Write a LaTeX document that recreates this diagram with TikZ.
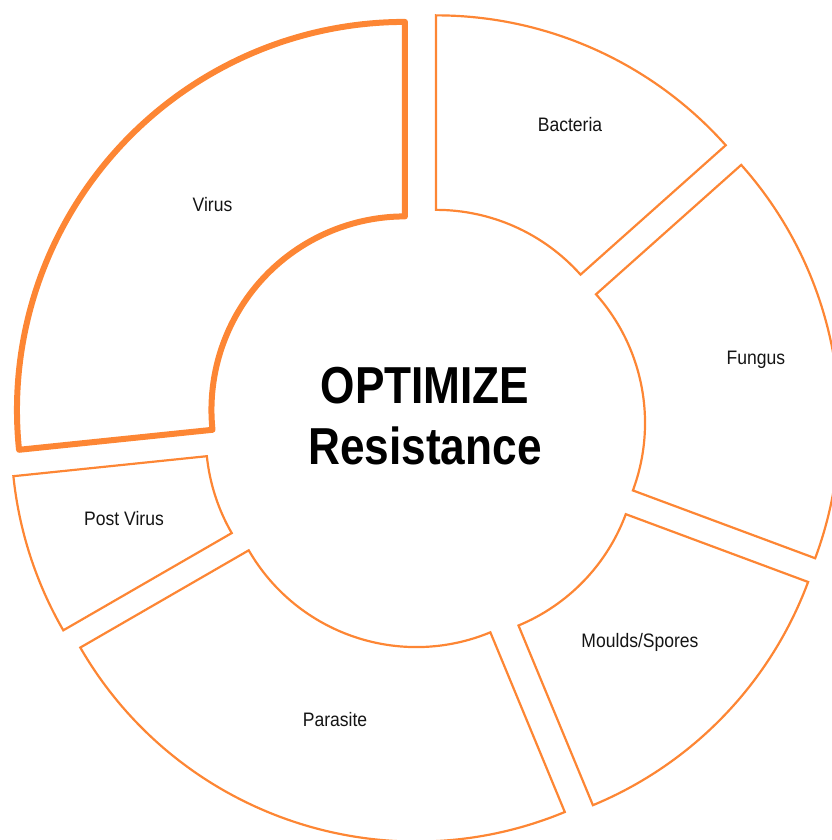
\documentclass[tikz,border=0pt]{standalone}
\usepackage{fontspec}
\setmainfont{Liberation Sans}
\newfontfamily\condbold[FakeStretch=0.85]{Liberation Sans Bold}
\newfontfamily\condreg[FakeStretch=0.9]{Liberation Sans}
\definecolor{segorange}{RGB}{253,134,52}
\newcommand{\donutseg}[3][]{%
  \pgfmathsetmacro{\segmid}{(#2+#3)/2}%
  \begin{scope}[shift={(C)},shift={(\segmid:27)}]
    \draw[segline,#1] (#2:193.5) -- (#2:388) arc[start angle=#2,end angle=#3,radius=388]
      -- (#3:193.5) arc[start angle=#3,end angle=#2,radius=193.5] -- cycle;
  \end{scope}}
\begin{document}
\begin{tikzpicture}[x=1pt,y=1pt,
  segline/.style={draw=segorange,line width=2.2pt,line join=miter},
  hilite/.style={line width=6pt,line join=round},
  lbl/.style={font=\condreg\fontsize{19.5}{22}\selectfont,text=black!92,anchor=base,inner sep=0pt},
  centertxt/.style={font=\condbold\fontsize{52}{60}\selectfont,text=black,anchor=base,inner sep=0pt}]
\useasboundingbox (0,0) rectangle (831,840);
\coordinate (C) at (425,412);
\donutseg[hilite]{90}{185.9}
\donutseg{41.7}{90}
\donutseg{-20.4}{41.7}
\donutseg{-67.5}{-20.4}
\donutseg{210}{292.5}
\donutseg{185.9}{210}
\node[lbl] (virus) at (212.5,628.3) {Virus};
\node[lbl] (bacteria) at (570,708) {Bacteria};
\node[lbl] (fungus) at (756,475) {Fungus};
\node[lbl] (moulds) at (640,192) {Moulds/Spores};
\node[lbl] (parasite) at (335,113) {Parasite};
\node[lbl] (postvirus) at (124,314) {Post Virus};
\node[centertxt] (opt) at (425,436) {OPTIMIZE};
\node[centertxt] (res) at (425,375) {Resistance};
\end{tikzpicture}
\end{document}
